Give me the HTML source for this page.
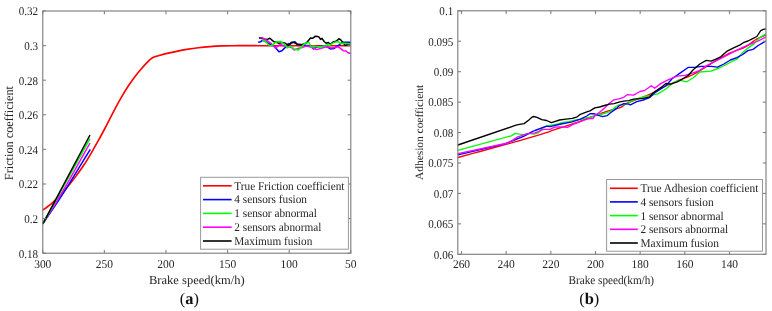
<!DOCTYPE html><html><head><meta charset="utf-8"><style>html,body{margin:0;padding:0;background:#fff;width:772px;height:311px;overflow:hidden}svg{display:block;text-rendering:geometricPrecision;will-change:transform}</style></head><body><svg width="772" height="311" viewBox="0 0 772 311" font-family='"Liberation Serif", serif' font-size="11.9" fill="#262626">
<rect width="772" height="311" fill="#fff"/>
<g>
<path d="M42.80,210.10 C43.63,209.50 46.12,207.78 47.80,206.49 C49.48,205.20 50.77,204.28 52.90,202.35 C55.03,200.42 58.03,197.61 60.60,194.89 C63.17,192.17 65.73,189.17 68.30,186.04 C70.87,182.91 73.43,179.57 76.00,176.12 C78.57,172.67 81.13,169.21 83.70,165.32 C86.27,161.43 88.82,157.19 91.40,152.80 C93.98,148.42 96.93,143.10 99.20,139.01 C101.47,134.92 103.28,131.50 105.00,128.25 C106.72,125.00 107.77,122.89 109.50,119.54 C111.23,116.19 113.33,112.01 115.40,108.15 C117.47,104.29 119.75,100.08 121.90,96.40 C124.05,92.72 126.17,89.30 128.30,86.05 C130.43,82.80 132.55,79.76 134.70,76.92 C136.85,74.08 139.08,71.45 141.20,68.99 C143.32,66.53 145.83,63.83 147.40,62.18 C148.97,60.53 149.67,59.86 150.60,59.07 C151.53,58.28 152.10,57.92 153.00,57.47 C153.90,57.02 154.97,56.70 156.00,56.36 C157.03,56.02 156.95,56.01 159.20,55.43 C161.45,54.85 166.03,53.69 169.50,52.89 C172.97,52.09 177.13,51.20 180.00,50.61 C182.87,50.02 183.65,49.86 186.70,49.38 C189.75,48.90 194.42,48.20 198.30,47.73 C202.18,47.26 206.12,46.88 210.00,46.58 C213.88,46.28 217.72,46.07 221.60,45.92 C225.48,45.77 226.90,45.74 233.30,45.70 C239.70,45.66 240.42,45.70 260.00,45.70 C279.58,45.70 335.67,45.70 350.80,45.70" fill="none" stroke="#ff0000" stroke-width="1.65" stroke-linejoin="round"/>
<polyline points="258.20,42.20 260.70,41.80 262.10,40.40 265.00,41.20 268.00,43.00 271.00,44.80 274.10,46.10 276.20,48.60 279.00,51.70 281.90,50.70 284.00,48.60 286.10,46.80 288.20,43.60 290.00,44.30 292.50,42.50 294.90,41.80 297.00,44.00 299.90,44.30 303.40,45.40 307.60,45.40 311.90,46.40 313.30,48.90 316.80,47.10 320.00,46.50 324.10,45.70 327.60,47.10 330.40,48.90 334.00,48.60 336.80,46.10 339.60,44.70 342.50,42.20 350.80,42.20" fill="none" stroke="#0000ff" stroke-width="1.5" stroke-linejoin="round" stroke-linecap="butt"/>
<polyline points="258.90,38.10 260.70,38.00 264.00,39.00 267.40,39.40 269.90,38.30 272.00,40.10 274.10,41.80 276.20,42.20 279.00,43.30 282.00,42.50 284.70,42.90 286.80,44.30 287.80,46.10 291.40,42.20 294.20,42.50 297.70,44.70 301.30,44.70 305.50,43.60 307.60,41.50 310.50,38.00 312.60,38.30 315.40,36.20 317.50,36.40 319.10,37.20 320.50,39.40 322.00,38.30 324.10,41.50 326.20,43.30 328.30,42.50 330.40,44.30 333.30,41.80 335.40,41.50 337.50,40.10 338.90,38.70 341.00,40.10 343.20,42.90 345.30,45.40 348.10,44.30 350.80,44.30" fill="none" stroke="#000000" stroke-width="1.5" stroke-linejoin="round" stroke-linecap="butt"/>
<polyline points="260.70,37.60 262.80,38.00 265.60,39.70 268.40,41.50 271.30,43.60 273.40,45.70 275.50,48.20 277.60,46.50 279.80,44.30 281.90,45.00 284.70,46.10 287.80,46.40 291.40,47.50 294.20,50.00 297.70,48.60 302.00,47.50 306.20,46.10 309.80,46.80 313.30,48.20 316.80,49.60 321.20,48.20 325.50,47.10 328.30,46.80 331.10,47.90 334.70,47.50 338.20,46.80 341.00,48.90 343.20,50.70 346.00,51.00 348.10,52.80 350.80,53.50" fill="none" stroke="#ff00ff" stroke-width="1.5" stroke-linejoin="round" stroke-linecap="butt"/>
<polyline points="262.10,39.70 264.20,40.80 267.00,42.90 269.10,45.40 272.00,45.70 274.80,42.90 277.60,41.80 280.50,41.50 283.30,43.30 286.10,46.10 287.10,47.90 290.70,46.40 294.20,48.90 298.40,50.00 302.00,46.40 304.80,43.30 309.00,42.50 311.20,47.10 313.30,46.10 316.10,46.80 321.20,46.80 324.80,45.70 327.60,44.70 329.70,45.70 331.90,43.60 334.70,42.20 338.20,41.50 340.30,43.60 343.20,43.30 346.70,43.60 350.80,44.00" fill="none" stroke="#00ff00" stroke-width="1.5" stroke-linejoin="round" stroke-linecap="butt"/>
<path d="M42.80,223.80 C46.55,218.17 57.38,202.42 65.30,190.00 C73.22,177.58 86.13,156.08 90.30,149.30" fill="none" stroke="#0000ff" stroke-width="1.5" stroke-linejoin="round"/>
<path d="M42.80,223.80 C46.25,218.17 55.63,203.47 63.50,190.00 C71.37,176.53 85.58,150.83 90.00,143.00" fill="none" stroke="#ff00ff" stroke-width="1.5" stroke-linejoin="round"/>
<polyline points="42.80,223.80 90.00,138.60" fill="none" stroke="#00ff00" stroke-width="1.5" stroke-linejoin="round" stroke-linecap="butt"/>
<polyline points="42.80,223.80 90.00,135.00" fill="none" stroke="#000000" stroke-width="1.5" stroke-linejoin="round" stroke-linecap="butt"/>
</g>
<line x1="42.75" y1="253.2" x2="42.75" y2="250.00" stroke="#808080" stroke-width="1.1"/>
<line x1="42.75" y1="11.0" x2="42.75" y2="14.20" stroke="#808080" stroke-width="1.1"/>
<line x1="104.36" y1="253.2" x2="104.36" y2="250.00" stroke="#808080" stroke-width="1.1"/>
<line x1="104.36" y1="11.0" x2="104.36" y2="14.20" stroke="#808080" stroke-width="1.1"/>
<line x1="165.97" y1="253.2" x2="165.97" y2="250.00" stroke="#808080" stroke-width="1.1"/>
<line x1="165.97" y1="11.0" x2="165.97" y2="14.20" stroke="#808080" stroke-width="1.1"/>
<line x1="227.58" y1="253.2" x2="227.58" y2="250.00" stroke="#808080" stroke-width="1.1"/>
<line x1="227.58" y1="11.0" x2="227.58" y2="14.20" stroke="#808080" stroke-width="1.1"/>
<line x1="289.19" y1="253.2" x2="289.19" y2="250.00" stroke="#808080" stroke-width="1.1"/>
<line x1="289.19" y1="11.0" x2="289.19" y2="14.20" stroke="#808080" stroke-width="1.1"/>
<line x1="350.80" y1="253.2" x2="350.80" y2="250.00" stroke="#808080" stroke-width="1.1"/>
<line x1="350.80" y1="11.0" x2="350.80" y2="14.20" stroke="#808080" stroke-width="1.1"/>
<line x1="42.75" y1="253.20" x2="45.95" y2="253.20" stroke="#808080" stroke-width="1.1"/>
<line x1="350.8" y1="253.20" x2="347.60" y2="253.20" stroke="#808080" stroke-width="1.1"/>
<line x1="42.75" y1="218.60" x2="45.95" y2="218.60" stroke="#808080" stroke-width="1.1"/>
<line x1="350.8" y1="218.60" x2="347.60" y2="218.60" stroke="#808080" stroke-width="1.1"/>
<line x1="42.75" y1="184.00" x2="45.95" y2="184.00" stroke="#808080" stroke-width="1.1"/>
<line x1="350.8" y1="184.00" x2="347.60" y2="184.00" stroke="#808080" stroke-width="1.1"/>
<line x1="42.75" y1="149.40" x2="45.95" y2="149.40" stroke="#808080" stroke-width="1.1"/>
<line x1="350.8" y1="149.40" x2="347.60" y2="149.40" stroke="#808080" stroke-width="1.1"/>
<line x1="42.75" y1="114.80" x2="45.95" y2="114.80" stroke="#808080" stroke-width="1.1"/>
<line x1="350.8" y1="114.80" x2="347.60" y2="114.80" stroke="#808080" stroke-width="1.1"/>
<line x1="42.75" y1="80.20" x2="45.95" y2="80.20" stroke="#808080" stroke-width="1.1"/>
<line x1="350.8" y1="80.20" x2="347.60" y2="80.20" stroke="#808080" stroke-width="1.1"/>
<line x1="42.75" y1="45.60" x2="45.95" y2="45.60" stroke="#808080" stroke-width="1.1"/>
<line x1="350.8" y1="45.60" x2="347.60" y2="45.60" stroke="#808080" stroke-width="1.1"/>
<line x1="42.75" y1="11.00" x2="45.95" y2="11.00" stroke="#808080" stroke-width="1.1"/>
<line x1="350.8" y1="11.00" x2="347.60" y2="11.00" stroke="#808080" stroke-width="1.1"/>
<rect x="42.75" y="11.0" width="308.05" height="242.20" fill="none" stroke="#808080" stroke-width="1.15"/>
<text transform="translate(42.75,267.8) scale(0.965,1)" text-anchor="middle">300</text>
<text transform="translate(104.36,267.8) scale(0.965,1)" text-anchor="middle">250</text>
<text transform="translate(165.97,267.8) scale(0.965,1)" text-anchor="middle">200</text>
<text transform="translate(227.58,267.8) scale(0.965,1)" text-anchor="middle">150</text>
<text transform="translate(289.19,267.8) scale(0.965,1)" text-anchor="middle">100</text>
<text transform="translate(350.80,267.8) scale(0.965,1)" text-anchor="middle">50</text>
<text transform="translate(38.15,257.50) scale(0.93,1)" text-anchor="end">0.18</text>
<text transform="translate(38.15,222.90) scale(0.93,1)" text-anchor="end">0.2</text>
<text transform="translate(38.15,188.30) scale(0.93,1)" text-anchor="end">0.22</text>
<text transform="translate(38.15,153.70) scale(0.93,1)" text-anchor="end">0.24</text>
<text transform="translate(38.15,119.10) scale(0.93,1)" text-anchor="end">0.26</text>
<text transform="translate(38.15,84.50) scale(0.93,1)" text-anchor="end">0.28</text>
<text transform="translate(38.15,49.90) scale(0.93,1)" text-anchor="end">0.3</text>
<text transform="translate(38.15,15.30) scale(0.93,1)" text-anchor="end">0.32</text>
<rect x="200.6" y="177.3" width="147.80" height="71.90" fill="#fff" stroke="#9a9a9a" stroke-width="1"/>
<line x1="203" y1="185.8" x2="231.6" y2="185.8" stroke="#ff0000" stroke-width="1.6"/>
<text transform="translate(234.3,189.60) scale(0.948,1)" font-size="11.9">True Friction coefficient</text>
<line x1="203" y1="199.6" x2="231.6" y2="199.6" stroke="#0000ff" stroke-width="1.6"/>
<text transform="translate(234.3,203.40) scale(0.948,1)" font-size="11.9">4 sensors fusion</text>
<line x1="203" y1="213.4" x2="231.6" y2="213.4" stroke="#00ff00" stroke-width="1.6"/>
<text transform="translate(234.3,217.20) scale(0.948,1)" font-size="11.9">1 sensor abnormal</text>
<line x1="203" y1="227.2" x2="231.6" y2="227.2" stroke="#ff00ff" stroke-width="1.6"/>
<text transform="translate(234.3,231.00) scale(0.948,1)" font-size="11.9">2 sensors abnormal</text>
<line x1="203" y1="241.0" x2="231.6" y2="241.0" stroke="#000000" stroke-width="1.6"/>
<text transform="translate(234.3,244.80) scale(0.948,1)" font-size="11.9">Maximum fusion</text>
<text x="196.8" y="284" text-anchor="middle" font-size="12.3" textLength="95.6" lengthAdjust="spacingAndGlyphs">Brake speed(km/h)</text>
<text transform="translate(13.4,133.1) rotate(-90)" text-anchor="middle" font-size="12.4" textLength="94.2" lengthAdjust="spacingAndGlyphs">Friction coefficient</text>
<text x="189.3" y="304" text-anchor="middle" font-size="16.4" fill="#111">(<tspan font-weight="bold">a</tspan>)</text>
<path d="M457.90,157.50 C461.58,156.50 472.15,153.63 480.00,151.50 C487.85,149.37 495.83,147.27 505.00,144.70 C514.17,142.13 527.50,138.33 535.00,136.10 C542.50,133.87 545.65,132.73 550.00,131.30 C554.35,129.87 556.57,128.98 561.10,127.50 C565.63,126.02 572.22,124.15 577.20,122.40 C582.18,120.65 585.82,118.93 591.00,117.00 C596.18,115.07 603.33,112.40 608.30,110.80 C613.27,109.20 617.65,108.67 620.80,107.40 C623.95,106.13 622.38,105.38 627.20,103.20 C632.02,101.02 644.05,96.80 649.70,94.30 C655.35,91.80 656.52,90.42 661.10,88.20 C665.68,85.98 671.85,83.28 677.20,81.00 C682.55,78.72 687.73,77.27 693.20,74.50 C698.67,71.73 704.33,67.77 710.00,64.40 C715.67,61.03 721.37,57.18 727.20,54.30 C733.03,51.42 740.27,49.53 745.00,47.10 C749.73,44.67 753.18,41.25 755.60,39.70 C758.02,38.15 757.77,38.60 759.50,37.80 C761.23,37.00 764.92,35.38 766.00,34.90" fill="none" stroke="#ff0000" stroke-width="1.35" stroke-linejoin="round"/>
<polyline points="457.90,150.40 511.20,135.80 515.20,133.40 519.30,134.20 524.10,134.60 528.90,133.40 533.80,134.20 538.60,132.60 541.80,128.50 546.60,126.10 553.00,124.80 557.90,124.00 562.70,122.40 569.10,121.60 575.60,120.00 582.00,119.20 586.80,117.60 590.00,117.60 593.90,116.10 597.70,114.20 602.50,114.20 607.30,112.70 612.20,110.30 616.00,106.50 618.90,105.00 623.70,104.60 628.60,103.10 633.60,100.00 645.00,96.40 657.90,93.80 665.90,89.00 672.30,83.40 678.80,80.20 686.80,81.80 693.20,77.70 699.80,72.00 711.10,71.20 719.10,68.00 727.20,64.00 736.80,59.20 742.70,52.60 747.90,48.10 754.30,43.60 759.50,37.80 766.00,33.90" fill="none" stroke="#00ff00" stroke-width="1.35" stroke-linejoin="round" stroke-linecap="butt"/>
<polyline points="457.90,154.90 505.00,143.80 512.00,141.00 524.10,136.10 532.20,131.70 535.00,130.50 546.60,126.10 550.00,126.70 561.10,124.00 572.00,121.90 580.40,119.20 586.80,116.00 590.00,113.70 593.90,113.70 597.70,115.20 602.50,116.60 607.30,115.60 611.20,112.30 616.00,108.90 618.90,106.00 623.70,103.60 628.60,104.10 630.40,104.80 636.80,101.60 643.20,100.00 649.70,97.60 654.60,93.00 665.90,85.80 672.30,78.50 680.40,72.90 688.40,67.30 694.90,67.30 701.40,66.40 711.10,66.40 717.50,67.20 723.90,64.00 730.40,60.00 736.80,57.60 742.70,54.50 747.90,50.60 753.00,49.40 758.20,45.50 766.00,41.00" fill="none" stroke="#0000ff" stroke-width="1.35" stroke-linejoin="round" stroke-linecap="butt"/>
<polyline points="457.90,153.60 508.00,143.00 512.80,140.10 517.70,136.90 522.50,135.30 525.70,134.20 530.50,133.40 535.00,132.90 538.60,131.70 543.40,129.30 550.00,129.30 554.60,127.20 560.00,126.90 567.50,127.40 574.00,124.00 580.40,121.60 586.80,119.20 590.00,118.50 592.90,118.50 595.80,114.70 599.60,112.30 604.50,107.90 609.30,103.60 613.10,100.20 618.90,98.80 623.70,97.30 627.20,94.70 633.60,95.20 640.00,91.50 644.90,90.30 651.40,85.80 654.60,88.20 661.10,83.40 669.10,79.30 677.20,76.10 685.20,75.30 693.20,72.90 699.70,70.50 704.60,66.90 714.30,61.60 723.90,56.80 733.60,51.90 742.70,47.40 750.40,44.20 758.20,41.00 766.00,37.00" fill="none" stroke="#ff00ff" stroke-width="1.35" stroke-linejoin="round" stroke-linecap="butt"/>
<polyline points="457.90,145.00 516.00,125.20 520.90,124.10 524.10,123.60 528.90,120.00 532.10,117.10 533.80,116.50 537.00,117.30 541.80,119.70 546.60,120.50 551.40,122.70 554.60,121.60 559.50,120.00 565.90,119.20 572.30,118.40 577.20,116.80 580.40,114.30 586.80,111.90 590.00,110.80 594.80,107.90 599.60,107.00 604.50,105.50 609.30,104.10 614.10,103.60 618.90,102.10 623.70,101.20 628.60,100.70 633.60,99.20 643.20,98.40 649.70,96.80 653.00,93.00 661.10,87.40 665.90,83.40 670.70,84.20 677.20,81.80 682.00,79.30 688.40,75.30 693.20,69.70 699.80,64.00 706.30,60.40 711.10,61.10 715.90,59.20 720.70,56.80 727.20,51.10 733.60,47.90 740.10,44.90 744.00,42.30 747.90,41.00 751.70,39.10 756.90,36.50 760.70,30.70 763.30,29.40 766.00,28.80" fill="none" stroke="#000000" stroke-width="1.35" stroke-linejoin="round" stroke-linecap="butt"/>
<line x1="461.51" y1="254.3" x2="461.51" y2="251.10" stroke="#808080" stroke-width="1.1"/>
<line x1="461.51" y1="10.8" x2="461.51" y2="14.00" stroke="#808080" stroke-width="1.1"/>
<line x1="506.17" y1="254.3" x2="506.17" y2="251.10" stroke="#808080" stroke-width="1.1"/>
<line x1="506.17" y1="10.8" x2="506.17" y2="14.00" stroke="#808080" stroke-width="1.1"/>
<line x1="550.84" y1="254.3" x2="550.84" y2="251.10" stroke="#808080" stroke-width="1.1"/>
<line x1="550.84" y1="10.8" x2="550.84" y2="14.00" stroke="#808080" stroke-width="1.1"/>
<line x1="595.51" y1="254.3" x2="595.51" y2="251.10" stroke="#808080" stroke-width="1.1"/>
<line x1="595.51" y1="10.8" x2="595.51" y2="14.00" stroke="#808080" stroke-width="1.1"/>
<line x1="640.17" y1="254.3" x2="640.17" y2="251.10" stroke="#808080" stroke-width="1.1"/>
<line x1="640.17" y1="10.8" x2="640.17" y2="14.00" stroke="#808080" stroke-width="1.1"/>
<line x1="684.84" y1="254.3" x2="684.84" y2="251.10" stroke="#808080" stroke-width="1.1"/>
<line x1="684.84" y1="10.8" x2="684.84" y2="14.00" stroke="#808080" stroke-width="1.1"/>
<line x1="729.51" y1="254.3" x2="729.51" y2="251.10" stroke="#808080" stroke-width="1.1"/>
<line x1="729.51" y1="10.8" x2="729.51" y2="14.00" stroke="#808080" stroke-width="1.1"/>
<line x1="457.8" y1="254.30" x2="461.00" y2="254.30" stroke="#808080" stroke-width="1.1"/>
<line x1="766.0" y1="254.30" x2="762.80" y2="254.30" stroke="#808080" stroke-width="1.1"/>
<line x1="457.8" y1="223.86" x2="461.00" y2="223.86" stroke="#808080" stroke-width="1.1"/>
<line x1="766.0" y1="223.86" x2="762.80" y2="223.86" stroke="#808080" stroke-width="1.1"/>
<line x1="457.8" y1="193.42" x2="461.00" y2="193.42" stroke="#808080" stroke-width="1.1"/>
<line x1="766.0" y1="193.42" x2="762.80" y2="193.42" stroke="#808080" stroke-width="1.1"/>
<line x1="457.8" y1="162.99" x2="461.00" y2="162.99" stroke="#808080" stroke-width="1.1"/>
<line x1="766.0" y1="162.99" x2="762.80" y2="162.99" stroke="#808080" stroke-width="1.1"/>
<line x1="457.8" y1="132.55" x2="461.00" y2="132.55" stroke="#808080" stroke-width="1.1"/>
<line x1="766.0" y1="132.55" x2="762.80" y2="132.55" stroke="#808080" stroke-width="1.1"/>
<line x1="457.8" y1="102.11" x2="461.00" y2="102.11" stroke="#808080" stroke-width="1.1"/>
<line x1="766.0" y1="102.11" x2="762.80" y2="102.11" stroke="#808080" stroke-width="1.1"/>
<line x1="457.8" y1="71.68" x2="461.00" y2="71.68" stroke="#808080" stroke-width="1.1"/>
<line x1="766.0" y1="71.68" x2="762.80" y2="71.68" stroke="#808080" stroke-width="1.1"/>
<line x1="457.8" y1="41.24" x2="461.00" y2="41.24" stroke="#808080" stroke-width="1.1"/>
<line x1="766.0" y1="41.24" x2="762.80" y2="41.24" stroke="#808080" stroke-width="1.1"/>
<line x1="457.8" y1="10.80" x2="461.00" y2="10.80" stroke="#808080" stroke-width="1.1"/>
<line x1="766.0" y1="10.80" x2="762.80" y2="10.80" stroke="#808080" stroke-width="1.1"/>
<rect x="457.8" y="10.8" width="308.20" height="243.50" fill="none" stroke="#808080" stroke-width="1.15"/>
<text transform="translate(461.51,267.8) scale(0.965,1)" text-anchor="middle">260</text>
<text transform="translate(506.17,267.8) scale(0.965,1)" text-anchor="middle">240</text>
<text transform="translate(550.84,267.8) scale(0.965,1)" text-anchor="middle">220</text>
<text transform="translate(595.51,267.8) scale(0.965,1)" text-anchor="middle">200</text>
<text transform="translate(640.17,267.8) scale(0.965,1)" text-anchor="middle">180</text>
<text transform="translate(684.84,267.8) scale(0.965,1)" text-anchor="middle">160</text>
<text transform="translate(729.51,267.8) scale(0.965,1)" text-anchor="middle">140</text>
<text transform="translate(453.20,258.60) scale(0.93,1)" text-anchor="end">0.06</text>
<text transform="translate(453.20,228.16) scale(0.93,1)" text-anchor="end">0.065</text>
<text transform="translate(453.20,197.72) scale(0.93,1)" text-anchor="end">0.07</text>
<text transform="translate(453.20,167.29) scale(0.93,1)" text-anchor="end">0.075</text>
<text transform="translate(453.20,136.85) scale(0.93,1)" text-anchor="end">0.08</text>
<text transform="translate(453.20,106.41) scale(0.93,1)" text-anchor="end">0.085</text>
<text transform="translate(453.20,75.98) scale(0.93,1)" text-anchor="end">0.09</text>
<text transform="translate(453.20,45.54) scale(0.93,1)" text-anchor="end">0.095</text>
<text transform="translate(453.20,15.10) scale(0.93,1)" text-anchor="end">0.1</text>
<rect x="606.6" y="179.5" width="155.90" height="71.70" fill="#fff" stroke="#9a9a9a" stroke-width="1"/>
<line x1="610" y1="188.3" x2="637.8" y2="188.3" stroke="#ff0000" stroke-width="1.6"/>
<text transform="translate(640.4,192.30) scale(0.955,1)" font-size="11.9">True Adhesion coefficient</text>
<line x1="610" y1="201.9" x2="637.8" y2="201.9" stroke="#0000ff" stroke-width="1.6"/>
<text transform="translate(640.4,205.90) scale(0.955,1)" font-size="11.9">4 sensors fusion</text>
<line x1="610" y1="215.6" x2="637.8" y2="215.6" stroke="#00ff00" stroke-width="1.6"/>
<text transform="translate(640.4,219.60) scale(0.955,1)" font-size="11.9">1 sensor abnormal</text>
<line x1="610" y1="229.3" x2="637.8" y2="229.3" stroke="#ff00ff" stroke-width="1.6"/>
<text transform="translate(640.4,233.30) scale(0.955,1)" font-size="11.9">2 sensors abnormal</text>
<line x1="610" y1="243.0" x2="637.8" y2="243.0" stroke="#000000" stroke-width="1.6"/>
<text transform="translate(640.4,247.00) scale(0.955,1)" font-size="11.9">Maximum fusion</text>
<text x="611.3" y="284" text-anchor="middle" font-size="12" textLength="85.5" lengthAdjust="spacingAndGlyphs">Brake speed(km/h)</text>
<text transform="translate(422.9,132.4) rotate(-90)" text-anchor="middle" font-size="11.3" textLength="95" lengthAdjust="spacingAndGlyphs">Adhesion coefficient</text>
<text x="589.3" y="304" text-anchor="middle" font-size="16.4" fill="#111">(<tspan font-weight="bold">b</tspan>)</text>
</svg></body></html>
